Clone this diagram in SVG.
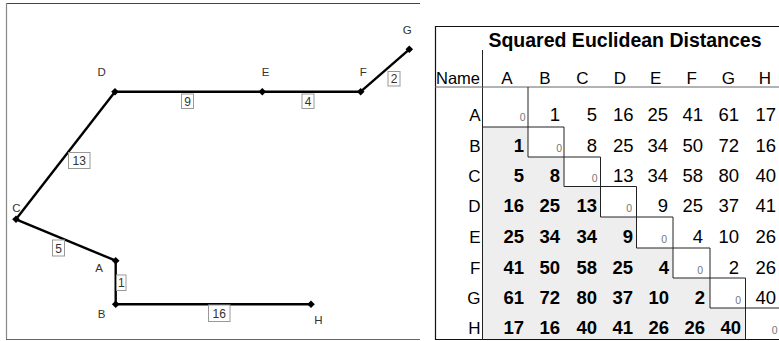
<svg xmlns="http://www.w3.org/2000/svg" width="779" height="341" viewBox="0 0 779 341">
<style>
  text { font-family: "Liberation Sans", Arial, sans-serif; }
  .edge { stroke: #000; stroke-width: 2.4; fill: none; }
  .nlab { font-size: 11.5px; fill: #333; text-anchor: middle; }
  .ebox { fill: #fff; stroke: #999; stroke-width: 1; }
  .elab { font-size: 12px; fill: #333; text-anchor: middle; }
  .frame { stroke: #444; stroke-width: 1.2; fill: none; }
  .tline { stroke: #111; stroke-width: 1.2; fill: none; }
  .stair { stroke: #222; stroke-width: 1; fill: none; }
  .hdr { font-size: 17px; fill: #000; text-anchor: middle; }
  .rlab { font-size: 17px; fill: #000; text-anchor: end; }
  .up { font-size: 18.5px; fill: #000; text-anchor: end; }
  .lo { font-size: 18.5px; fill: #000; text-anchor: end; font-weight: bold; }
  .z { font-size: 10.5px; fill: #777; text-anchor: end; }
</style>
<defs>
  <path id="dm" d="M0,-3.8 L3.8,0 L0,3.8 L-3.8,0 Z" fill="#000"/>
</defs>
<rect x="0" y="0" width="779" height="341" fill="#fff"/>

<!-- left panel frame -->
<g id="left-frame">
  <line class="frame" x1="6" y1="3.5" x2="420" y2="3.5" stroke="#222"/>
  <line class="frame" x1="6.5" y1="3" x2="6.5" y2="339.5" style="stroke:#888"/>
  <line class="frame" x1="6" y1="339.5" x2="420" y2="339.5" style="stroke:#666"/>
</g>

<!-- connectors -->
<g id="connectors">
  <line class="edge" x1="115" y1="91.7" x2="16" y2="219.3"/>
  <line class="edge" x1="115" y1="91.7" x2="262.3" y2="91.7"/>
  <line class="edge" x1="262.3" y1="91.7" x2="360.7" y2="91.7"/>
  <line class="edge" x1="360.7" y1="91.7" x2="409.3" y2="49.3"/>
  <line class="edge" x1="16" y1="219.3" x2="115.7" y2="260.7"/>
  <line class="edge" x1="115.7" y1="260.7" x2="115.7" y2="304.3"/>
  <line class="edge" x1="115.7" y1="304.3" x2="311" y2="304.3"/>

  <rect class="ebox" x="181.5" y="94" width="12" height="14.5"/>
  <text class="elab" x="187.5" y="105.5">9</text>
  <rect class="ebox" x="302" y="94" width="12" height="14.5"/>
  <text class="elab" x="308" y="105.5">4</text>
  <rect class="ebox" x="388" y="71.5" width="12" height="14.5"/>
  <text class="elab" x="394" y="83">2</text>
  <rect class="ebox" x="68.5" y="152.5" width="21.5" height="16"/>
  <text class="elab" x="79.3" y="165">13</text>
  <rect class="ebox" x="52.5" y="240" width="12" height="16"/>
  <text class="elab" x="58.5" y="252.5">5</text>
  <rect class="ebox" x="116.5" y="275" width="9.5" height="15.5"/>
  <text class="elab" x="121.3" y="287">1</text>
  <rect class="ebox" x="208.5" y="305" width="21.5" height="16.5"/>
  <text class="elab" x="219.3" y="317.5">16</text>
</g>

<!-- nodes -->
<g id="node-A"><use href="#dm" x="115.7" y="260.7"/><text class="nlab" x="99" y="271.5">A</text></g>
<g id="node-B"><use href="#dm" x="115.7" y="304.3"/><text class="nlab" x="101.7" y="317.5">B</text></g>
<g id="node-C"><use href="#dm" x="16" y="219.3"/><text class="nlab" x="16.5" y="211.7">C</text></g>
<g id="node-D"><use href="#dm" x="115" y="91.7"/><text class="nlab" x="101.7" y="76">D</text></g>
<g id="node-E"><use href="#dm" x="262.3" y="91.7"/><text class="nlab" x="265.7" y="76">E</text></g>
<g id="node-F"><use href="#dm" x="360.7" y="91.7"/><text class="nlab" x="363.3" y="76">F</text></g>
<g id="node-G"><use href="#dm" x="409.3" y="49.3"/><text class="nlab" x="407.3" y="33.5">G</text></g>
<g id="node-H"><use href="#dm" x="311" y="304.3"/><text class="nlab" x="318.3" y="324">H</text></g>

<!-- table -->
<g id="table">
  <polygon fill="#eeeeee" points="483,127 528,127 528,157 564,157 564,186.5 600.5,186.5 600.5,217 636.5,217 636.5,248 673,248 673,278 710,278 710,308 745.5,308 745.5,339.5 483,339.5"/>
  <line class="tline" x1="435" y1="26.5" x2="790" y2="26.5"/>
  <line class="tline" x1="435.5" y1="26" x2="435.5" y2="340"/>
  <line class="tline" x1="435" y1="339.5" x2="790" y2="339.5"/>
  <line x1="482.5" y1="50" x2="482.5" y2="340" stroke="#222" stroke-width="1"/>
  <line x1="435" y1="87" x2="790" y2="87" stroke="#666" stroke-width="1"/>
  <path class="stair" d="M528,87 V157 M483,127 H564 M564,127 V186.5 M528,157 H600.5 M600.5,157 V217 M564,186.5 H636.5 M636.5,186.5 V248 M600.5,217 H673 M673,217 V278 M636.5,248 H710 M710,248 V308 M673,278 H745.5 M745.5,278 V340 M710,308 H790"/>

  <text x="625" y="46.5" font-size="19.5" font-weight="bold" text-anchor="middle">Squared Euclidean Distances</text>
  <text x="436" y="84" font-size="16.5">Name</text>
  <text class="hdr" x="507" y="84">A</text>
  <text class="hdr" x="545" y="84">B</text>
  <text class="hdr" x="582.3" y="84">C</text>
  <text class="hdr" x="620" y="84">D</text>
  <text class="hdr" x="655.7" y="84">E</text>
  <text class="hdr" x="691.7" y="84">F</text>
  <text class="hdr" x="728.3" y="84">G</text>
  <text class="hdr" x="765" y="84">H</text>

  <text class="rlab" x="480.5" y="121">A</text>
  <text class="rlab" x="480.5" y="151.5">B</text>
  <text class="rlab" x="480.5" y="182">C</text>
  <text class="rlab" x="480.5" y="212">D</text>
  <text class="rlab" x="480.5" y="243">E</text>
  <text class="rlab" x="480.5" y="273.5">F</text>
  <text class="rlab" x="480.5" y="303.5">G</text>
  <text class="rlab" x="480.5" y="334">H</text>

  <!-- row A -->
  <text class="z" x="525.5" y="121">0</text>
  <text class="up" x="560" y="121">1</text>
  <text class="up" x="597" y="121">5</text>
  <text class="up" x="633.5" y="121">16</text>
  <text class="up" x="668" y="121">25</text>
  <text class="up" x="703" y="121">41</text>
  <text class="up" x="739" y="121">61</text>
  <text class="up" x="776" y="121">17</text>
  <!-- row B -->
  <text class="lo" x="524" y="151.5">1</text>
  <text class="z" x="562" y="151.5">0</text>
  <text class="up" x="597" y="151.5">8</text>
  <text class="up" x="633.5" y="151.5">25</text>
  <text class="up" x="668" y="151.5">34</text>
  <text class="up" x="703" y="151.5">50</text>
  <text class="up" x="739" y="151.5">72</text>
  <text class="up" x="776" y="151.5">16</text>
  <!-- row C -->
  <text class="lo" x="524" y="182">5</text>
  <text class="lo" x="560" y="182">8</text>
  <text class="z" x="597.5" y="182">0</text>
  <text class="up" x="633.5" y="182">13</text>
  <text class="up" x="668" y="182">34</text>
  <text class="up" x="703" y="182">58</text>
  <text class="up" x="739" y="182">80</text>
  <text class="up" x="776" y="182">40</text>
  <!-- row D -->
  <text class="lo" x="524" y="212">16</text>
  <text class="lo" x="560" y="212">25</text>
  <text class="lo" x="597" y="212">13</text>
  <text class="z" x="632" y="212">0</text>
  <text class="up" x="668" y="212">9</text>
  <text class="up" x="703" y="212">25</text>
  <text class="up" x="739" y="212">37</text>
  <text class="up" x="776" y="212">41</text>
  <!-- row E -->
  <text class="lo" x="524" y="243">25</text>
  <text class="lo" x="560" y="243">34</text>
  <text class="lo" x="597" y="243">34</text>
  <text class="lo" x="633" y="243">9</text>
  <text class="z" x="667" y="243">0</text>
  <text class="up" x="703" y="243">4</text>
  <text class="up" x="739" y="243">10</text>
  <text class="up" x="776" y="243">26</text>
  <!-- row F -->
  <text class="lo" x="524" y="273.5">41</text>
  <text class="lo" x="560" y="273.5">50</text>
  <text class="lo" x="597" y="273.5">58</text>
  <text class="lo" x="633" y="273.5">25</text>
  <text class="lo" x="669" y="273.5">4</text>
  <text class="z" x="703" y="273.5">0</text>
  <text class="up" x="739" y="273.5">2</text>
  <text class="up" x="776" y="273.5">26</text>
  <!-- row G -->
  <text class="lo" x="524" y="303.5">61</text>
  <text class="lo" x="560" y="303.5">72</text>
  <text class="lo" x="597" y="303.5">80</text>
  <text class="lo" x="633" y="303.5">37</text>
  <text class="lo" x="669" y="303.5">10</text>
  <text class="lo" x="705" y="303.5">2</text>
  <text class="z" x="741" y="303.5">0</text>
  <text class="up" x="776" y="303.5">40</text>
  <!-- row H -->
  <text class="lo" x="524" y="334">17</text>
  <text class="lo" x="560" y="334">16</text>
  <text class="lo" x="597" y="334">40</text>
  <text class="lo" x="633" y="334">41</text>
  <text class="lo" x="669" y="334">26</text>
  <text class="lo" x="705" y="334">26</text>
  <text class="lo" x="741" y="334">40</text>
  <text class="z" x="777.5" y="334">0</text>
</g>
</svg>
